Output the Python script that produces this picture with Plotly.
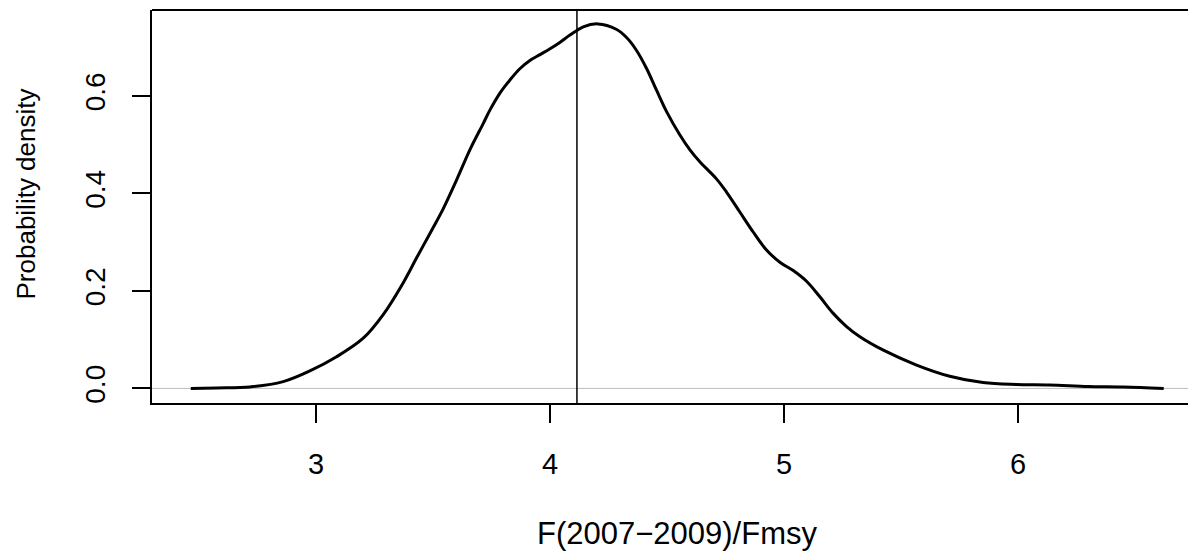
import plotly.graph_objects as go

# density curve
x_vals = [2.465, 2.576, 2.718, 2.860, 2.974, 3.088, 3.202, 3.288, 3.373, 3.430, 3.487, 3.544,
          3.601, 3.658, 3.715, 3.743, 3.786, 3.829, 3.871, 3.914, 3.957, 4.000, 4.042, 4.085,
          4.142, 4.205, 4.283, 4.327, 4.369, 4.412, 4.455, 4.498, 4.555, 4.597, 4.640, 4.711,
          4.754, 4.811, 4.868, 4.925, 4.982, 5.039, 5.096, 5.153, 5.210, 5.267, 5.324, 5.422,
          5.566, 5.708, 5.850, 5.992, 6.134, 6.300, 6.450, 6.622]
density = [0.000, 0.001, 0.003, 0.014, 0.036, 0.065, 0.103, 0.152, 0.217, 0.268, 0.318, 0.369,
           0.428, 0.490, 0.544, 0.571, 0.606, 0.633, 0.656, 0.673, 0.685, 0.697, 0.710, 0.725,
           0.742, 0.748, 0.737, 0.720, 0.694, 0.657, 0.612, 0.568, 0.520, 0.490, 0.465, 0.430,
           0.403, 0.362, 0.321, 0.284, 0.259, 0.242, 0.220, 0.188, 0.154, 0.127, 0.106, 0.079,
           0.048, 0.025, 0.012, 0.008, 0.007, 0.004, 0.003, 0.000]

vline_x = 4.115
x_ticks = [3, 4, 5, 6]
x_ticklabels = ["3", "4", "5", "6"]
y_ticks = [0.0, 0.2, 0.4, 0.6]
y_ticklabels = ["0.0", "0.2", "0.4", "0.6"]
x_title = "F(2007\u22122009)/Fmsy"
y_title = "Probability density"

FONT = "Liberation Sans, Arial, Helvetica, sans-serif"

fig = go.Figure()
fig.add_trace(go.Scatter(x=x_vals, y=density, mode="lines",
                         line=dict(color="black", width=3, shape="spline", smoothing=1.0),
                         showlegend=False, hoverinfo="skip"))

# zero reference line (gray) and vertical line
fig.add_shape(type="line", xref="paper", yref="y", x0=0, x1=1, y0=0, y1=0,
              line=dict(color="#bebebe", width=1), layer="below")
fig.add_shape(type="line", xref="x", yref="paper", x0=vline_x, x1=vline_x, y0=0, y1=1,
              line=dict(color="black", width=1.5))
# top of the box
fig.add_shape(type="line", xref="paper", yref="paper", x0=0, x1=1, y0=1, y1=1,
              line=dict(color="black", width=2))

# the page body has an 8px margin, so the figure is placed 8px right/down
fig.update_layout(
    width=1188, height=544,
    margin=dict(l=144, r=0, t=2, b=149),
    plot_bgcolor="white", paper_bgcolor="white",
    font=dict(family=FONT, size=26, color="black"),
    xaxis=dict(range=[2.2994, 6.760], tickvals=x_ticks, ticktext=x_ticklabels,
               showgrid=False, zeroline=False, showline=True, linecolor="black", linewidth=2,
               ticks="outside", ticklen=18, tickwidth=2, tickcolor="black",
               ticklabelstandoff=16, tickfont=dict(size=29)),
    yaxis=dict(range=[-0.0299, 0.7765], tickvals=y_ticks, ticktext=y_ticklabels,
               showgrid=False, zeroline=False, showline=True, linecolor="black", linewidth=2,
               ticks="outside", ticklen=18, tickwidth=2, tickcolor="black",
               tickangle=-90, ticklabelstandoff=16, tickfont=dict(size=28)),
    annotations=[
        dict(text=x_title, xref="paper", yref="paper", x=0.5026, y=0, yshift=-130,
             showarrow=False, xanchor="center", yanchor="middle", font=dict(size=31)),
        dict(text=y_title, xref="paper", yref="paper", x=0, xshift=-127, y=0.5, yshift=12,
             showarrow=False, textangle=-90, xanchor="center", yanchor="middle",
             font=dict(size=26)),
    ],
)

fig.write_html("out.html")
